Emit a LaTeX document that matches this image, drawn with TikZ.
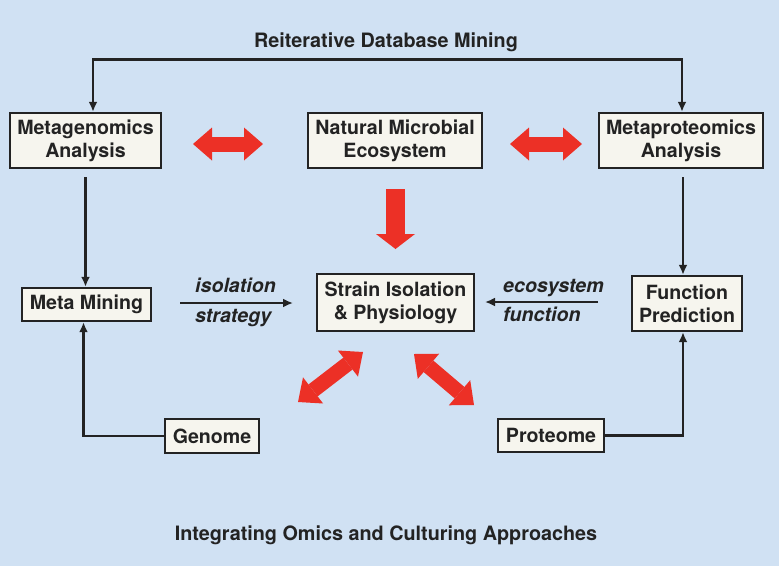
\documentclass[tikz,border=0pt]{standalone}
\usepackage{fontspec}
\setmainfont{TeX Gyre Heros}
\usetikzlibrary{arrows.meta}
\definecolor{bgblue}{RGB}{208,225,243}
\definecolor{boxfill}{RGB}{246,245,238}
\definecolor{arrowred}{RGB}{236,48,38}
\definecolor{ink}{RGB}{35,35,35}

\begin{document}
\begin{tikzpicture}[x=1pt,y=-1pt,>={Latex[length=10pt,width=9pt]},
        box/.style={draw=ink,line width=2.4pt,fill=boxfill,inner sep=0pt,align=center,
            font=\fontsize{19.6}{23}\selectfont\bfseries,text=ink},
        link/.style={->,line width=2.8pt,draw=ink},
        label/.style={font=\fontsize{19.6}{23}\selectfont\bfseries\itshape,text=ink,inner sep=0pt},
        caption/.style={font=\fontsize{19.8}{23}\selectfont\bfseries,text=ink,inner sep=0pt},
        fat/.style={draw=arrowred,line width=15pt,
            {Triangle[width=33pt,length=19pt,line width=0pt]}-{Triangle[width=33pt,length=19pt,line width=0pt]}}]
    % background and page size
    \fill[bgblue] (0,0) rectangle (779,566);
    \useasboundingbox (0,0) rectangle (779,566);

    % titles
    \node[caption,anchor=base] (top) at (386,47) {Reiterative Database Mining};
    \node[caption,anchor=base] (bottom) at (386,540) {Integrating Omics and Culturing Approaches};

    % the boxes
    \node[box,minimum width=151pt,minimum height=55pt] (mg) at (85.5,140.5) {Metagenomics\\Analysis};
    \node[box,minimum width=174pt,minimum height=55pt] (eco) at (395,140.5) {Natural Microbial\\Ecosystem};
    \node[box,minimum width=164pt,minimum height=55pt] (mp) at (681,140.5) {Metaproteomics\\Analysis};
    \node[box,minimum width=129pt,minimum height=33pt] (mm) at (86.5,304.5) {Meta Mining};
    \node[box,minimum width=157pt,minimum height=57pt] (si) at (395.5,302.5) {Strain Isolation\\\& Physiology};
    \node[box,minimum width=110pt,minimum height=55pt] (fp) at (687,303.5) {Function\\Prediction};
    \node[box,minimum width=94pt,minimum height=34pt] (gn) at (212,436) {Genome};
    \node[box,minimum width=106pt,minimum height=33pt] (pr) at (551,435.5) {Proteome};

    % reiterative loop on top
    \draw[link,<->] ([xshift=7.5pt]mg.north) -- ++(0,-52) -| ([xshift=1pt]mp.north);

    % vertical links
    \draw[link] ([yshift=-8pt]mg.south) -- (mg.south |- mm.north);
    \draw[link] ([xshift=2pt,yshift=-8pt]mp.south) -- ([xshift=2pt]mp.south |- fp.north);
    \draw[link] (gn.west) -| ([xshift=-3pt]mm.south);
    \draw[link] (pr.east) -| ([xshift=-4pt]fp.south);

    % labelled arrows into the strain box
    \coordinate (isoA) at (180,303);
    \coordinate (isoB) at (293,303);
    \coordinate (funA) at (598,302);
    \coordinate (funB) at (485,302);
    \draw[link] (isoA) -- (isoB);
    \draw[link] (funA) -- (funB);
    \node[label,anchor=base west] (iso1) at (195,292) {isolation};
    \node[label,anchor=base west] (iso2) at (195,322) {strategy};
    \node[label,anchor=base west] (fun1) at (503,292) {ecosystem};
    \node[label,anchor=base west] (fun2) at (503,321) {function};

    % red arrows
    \coordinate (rl1) at (193,144);
    \coordinate (rl2) at (263,144);
    \coordinate (rr1) at (510,144);
    \coordinate (rr2) at (582,144);
    \draw[fat] (rl1) -- (rl2);
    \draw[fat] (rr1) -- (rr2);
    \coordinate (rd1) at (395.5,189);
    \coordinate (rd2) at (395.5,249);
    \draw[draw=arrowred,line width=19pt,-{Triangle[width=39pt,length=15pt,line width=0pt]}] (rd1) -- (rd2);
    \coordinate (gl1) at (298,402);
    \coordinate (gl2) at (363,352);
    \coordinate (pl1) at (414,354);
    \coordinate (pl2) at (474,405);
    \draw[fat] (gl1) -- (gl2);
    \draw[fat] (pl1) -- (pl2);
\end{tikzpicture}
\end{document}
